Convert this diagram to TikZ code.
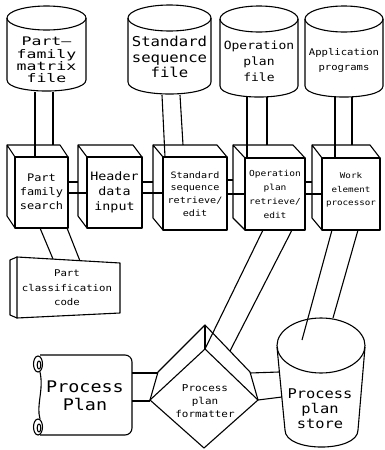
\documentclass[tikz,border=0pt]{standalone}
\usepackage{fontspec}
\newfontfamily\plotter[FakeStretch=1.15]{DejaVu Sans Mono}
\newfontfamily\plotterwide[FakeStretch=1.4]{DejaVu Sans Mono}
\begin{document}
	\begin{tikzpicture}[x=1pt, y=-1pt, line width=1.1pt, line join=round,
		lbl/.style 2 args={align=center, inner sep=0pt, font=\plotter\fontsize{#1}{#2}\selectfont}]
		\useasboundingbox ( 0, 0 ) rectangle ( 385, 450 );

		% файлы
		\draw ( 46.5, 18 ) ellipse [x radius=39.5, y radius=12];
		\draw ( 7, 18 ) -- ( 7, 80 ) .. controls ( 7, 94.7 ) and ( 86, 94.7 ) .. ( 86, 80 ) -- ( 86, 18 );
		\node [align=center, inner sep=0pt, font=\plotterwide\fontsize{11.8}{12.3}\selectfont] (pfmatrix) at ( 46.5, 60 ) {Part—\\family\\matrix\\file};

		\draw ( 169.5, 18 ) ellipse [x radius=41.5, y radius=13];
		\draw ( 128, 18 ) -- ( 128, 82 ) .. controls ( 128, 98 ) and ( 211, 98 ) .. ( 211, 82 ) -- ( 211, 18 );
		\node [lbl={13.6}{15.5}] (stdfile) at ( 169.5, 57 ) {Standard\\sequence\\file};

		\draw ( 259, 19 ) ellipse [x radius=39, y radius=13];
		\draw ( 220, 19 ) -- ( 220, 86 ) .. controls ( 220, 100.7 ) and ( 298, 100.7 ) .. ( 298, 86 ) -- ( 298, 19 );
		\node [lbl={11.3}{16}] (opfile) at ( 259, 61 ) {Operation\\plan\\file};

		\draw ( 344, 19 ) ellipse [x radius=39, y radius=13];
		\draw ( 305, 19 ) -- ( 305, 86 ) .. controls ( 305, 100.7 ) and ( 383, 100.7 ) .. ( 383, 86 ) -- ( 383, 19 );
		\node [lbl={9.2}{15}] (appfile) at ( 344, 60 ) {Application\\programs};

		% трубы от файлов к блокам
		\draw ( 35, 92 ) -- ( 35, 157 );
		\draw ( 53, 92 ) -- ( 53, 145 );
		\draw ( 162, 95 ) -- ( 165, 157 );
		\draw ( 180, 95 ) -- ( 183, 145 );
		\draw ( 247, 97 ) -- ( 247, 158 );
		\draw ( 267, 97 ) -- ( 267, 145 );
		\draw ( 335, 97 ) -- ( 335, 158 );
		\draw ( 352, 97 ) -- ( 352, 145 );

		% блок Part family search
		\draw ( 15, 157 ) rectangle ( 68, 228 );
		\draw ( 15, 157 ) -- ( 7, 145 ) -- ( 7, 216 ) -- ( 15, 228 );
		\draw ( 7, 145 ) -- ( 60, 145 ) -- ( 68, 157 );
		\node [lbl={10.4}{14}] (pfsearch) at ( 41.5, 192 ) {Part\\family\\search};

		% блок Header data input
		\draw ( 87, 157 ) rectangle ( 142, 228 );
		\draw ( 87, 157 ) -- ( 78, 145 ) -- ( 78, 216 ) -- ( 87, 228 );
		\draw ( 78, 145 ) -- ( 133, 145 ) -- ( 142, 157 );
		\node [lbl={11.6}{15}] (header) at ( 114.5, 192 ) {Header\\data\\input};

		% блок Standard sequence retrieve/edit
		\draw ( 163, 157 ) rectangle ( 227, 230 );
		\draw ( 163, 157 ) -- ( 153, 145 ) -- ( 153, 218 ) -- ( 163, 230 );
		\draw ( 153, 145 ) -- ( 217, 145 ) -- ( 227, 157 );
		\node [lbl={8.8}{12.7}] (stdedit) at ( 195, 194 ) {Standard\\sequence\\retrieve/\\edit};

		% блок Operation plan retrieve/edit
		\draw ( 245, 158 ) rectangle ( 305, 230 );
		\draw ( 245, 158 ) -- ( 233, 145 ) -- ( 233, 218 ) -- ( 245, 230 );
		\draw ( 233, 145 ) -- ( 293, 145 ) -- ( 305, 158 );
		\node [lbl={8.3}{14}] (opedit) at ( 275, 194 ) {Operation\\plan\\retrieve/\\edit};

		% блок Work element processor
		\draw ( 322, 158 ) rectangle ( 380, 230 );
		\draw ( 322, 158 ) -- ( 312, 145 ) -- ( 312, 218 ) -- ( 322, 230 );
		\draw ( 312, 145 ) -- ( 370, 145 ) -- ( 380, 158 );
		\node [lbl={8}{13.5}] (workel) at ( 351, 190 ) {Work\\element\\processor};

		% трубы между блоками
		\draw ( 68, 182 ) -- ( 78, 182 );
		\draw ( 68, 193 ) -- ( 87, 193 );
		\draw ( 142, 182 ) -- ( 153, 182 );
		\draw ( 142, 193 ) -- ( 163, 193 );
		\draw ( 227, 180 ) -- ( 233, 180 );
		\draw ( 227, 194 ) -- ( 245, 194 );
		\draw ( 305, 182 ) -- ( 312, 182 );
		\draw ( 305, 194 ) -- ( 322, 194 );

		% Part classification code
		\draw ( 17, 257 ) -- ( 120, 263 ) -- ( 120, 313 ) -- ( 17, 318 ) -- cycle;
		\draw ( 17, 257 ) -- ( 10, 260 ) -- ( 10, 315 ) -- ( 17, 318 );
		\node [lbl={9.3}{14.5}] (classcode) at ( 67, 288 ) {Part\\classification\\code};
		\draw ( 40, 228 ) -- ( 53, 259 );
		\draw ( 67, 228 ) -- ( 80, 261 );

		% Process Plan (свиток)
		\draw [rounded corners=7] ( 40, 355 ) -- ( 132, 355 ) -- ( 132, 435 ) -- ( 40, 435 );
		\draw ( 40, 372 ) .. controls ( 44, 390 ) and ( 36, 405 ) .. ( 40, 419 );
		\draw ( 38, 364 ) ellipse [x radius=4.5, y radius=8];
		\draw ( 39, 365 ) ellipse [x radius=1.8, y radius=4];
		\draw ( 38, 427 ) ellipse [x radius=4.5, y radius=8];
		\draw ( 39, 428 ) ellipse [x radius=1.8, y radius=4];
		\node [lbl={16}{18.5}] (plan) at ( 85, 396 ) {Process\\Plan};

		% Process plan formatter (ромб)
		\draw ( 205, 349 ) -- ( 258, 400 ) -- ( 204, 448 ) -- ( 150, 400 ) -- cycle;
		\draw ( 150, 400 ) -- ( 158, 372 ) -- ( 205, 325 ) -- ( 250, 372 ) -- ( 258, 400 );
		\draw ( 205, 325 ) -- ( 205, 349 );
		\node [lbl={9.5}{13}] (formatter) at ( 205, 401 ) {Process\\plan\\formatter};

		% Process plan store
		\draw ( 321, 345.5 ) ellipse [x radius=44, y radius=27.5];
		\draw ( 277, 347 ) -- ( 285, 430 ) .. controls ( 285, 452.7 ) and ( 358, 452.7 ) .. ( 358, 430 ) -- ( 365, 347 );
		\node [lbl={13.4}{15}] (store) at ( 320, 409 ) {Process\\plan\\store};

		% трубы внизу
		\draw ( 132, 373 ) -- ( 158, 373 );
		\draw ( 132, 401 ) -- ( 150, 401 );
		\draw ( 250, 373 ) -- ( 279, 372 );
		\draw ( 258, 400 ) -- ( 282, 397 );
		\draw ( 263, 230 ) -- ( 205, 349 );
		\draw ( 292, 230 ) -- ( 230, 351 );
		\draw ( 332, 230 ) -- ( 302, 340 );
		\draw ( 358, 230 ) -- ( 333, 318 );
	\end{tikzpicture}
\end{document}
